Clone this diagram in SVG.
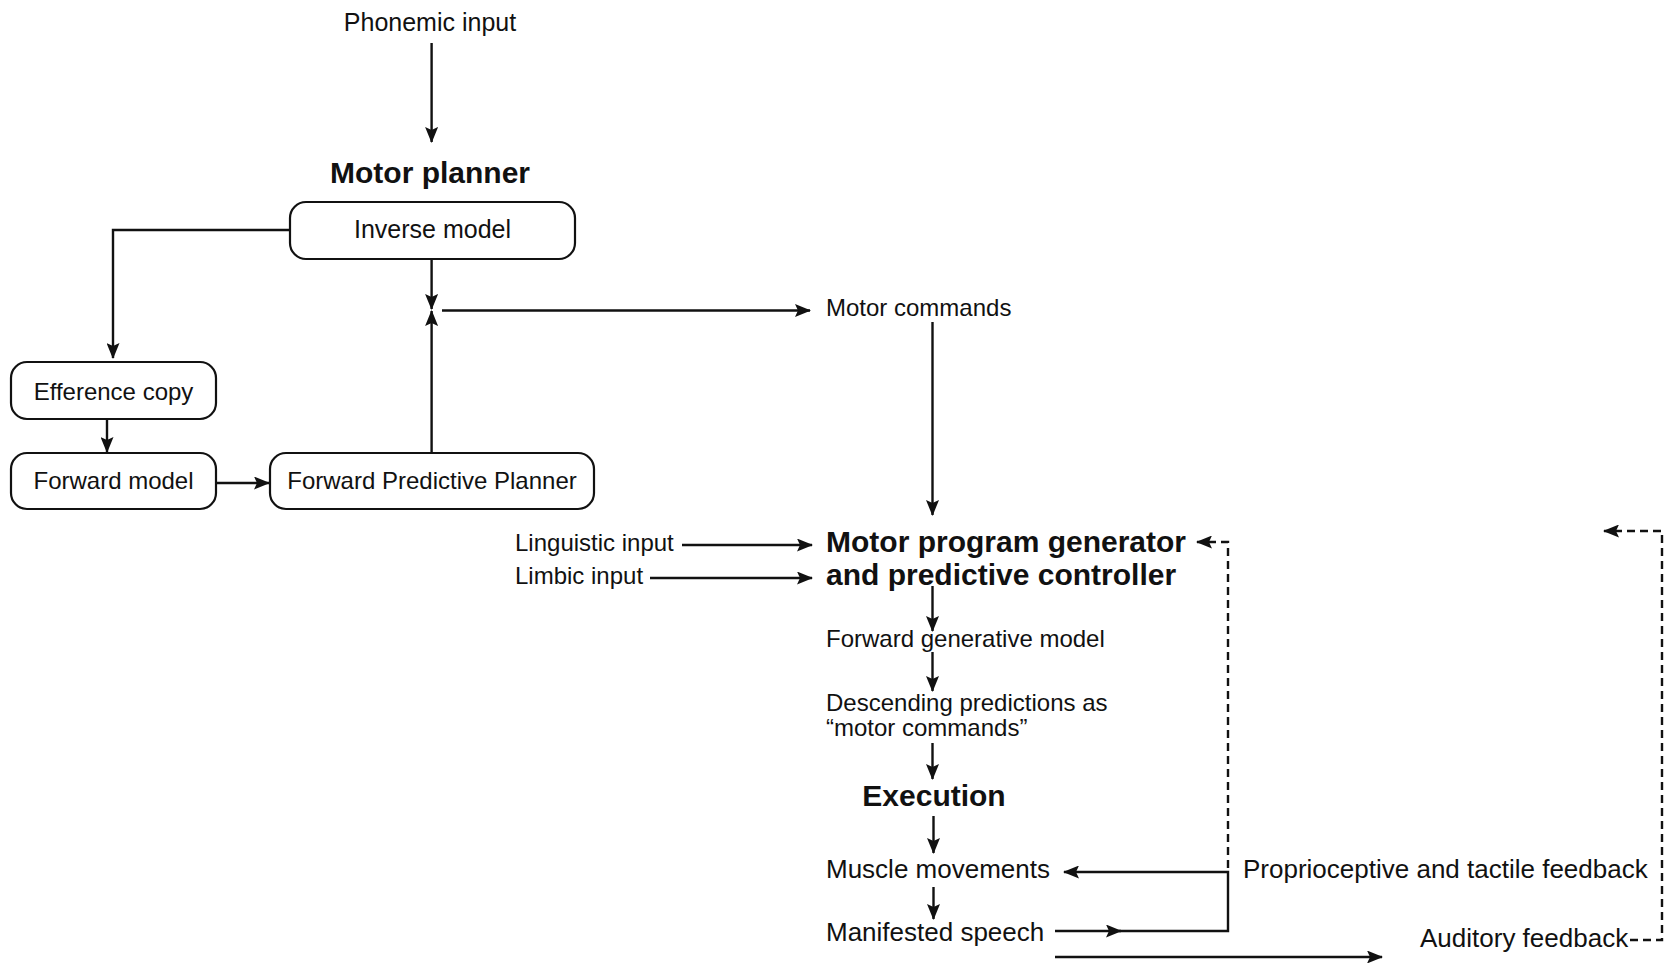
<svg xmlns="http://www.w3.org/2000/svg" width="1671" height="963" viewBox="0 0 1671 963">
<style>
text{font-family:"Liberation Sans",Arial,sans-serif;fill:#111}
.n{font-size:24px}
.m{font-size:25px}
.l{font-size:26px}
.b{font-size:30px;font-weight:bold}
.c{text-anchor:middle}
.box{fill:#fff;stroke:#111;stroke-width:2.2}
.ln{fill:none;stroke:#111;stroke-width:2.4}
.ds{fill:none;stroke:#111;stroke-width:2.4;stroke-dasharray:8 5}
</style>
<defs>
<marker id="ah" viewBox="0 0 16 13" refX="15" refY="6.5" markerWidth="16" markerHeight="13" orient="auto" markerUnits="userSpaceOnUse">
<path d="M0,0 L16,6.5 L0,13 L3,6.5 z" fill="#111"/>
</marker>
</defs>
<rect width="1671" height="963" fill="#fff"/>
<g id="connectors">
<path class="ln" d="M431.6,43 V142" marker-end="url(#ah)"/>
<path class="ln" d="M431.6,259 V309" marker-end="url(#ah)"/>
<path class="ln" d="M431.6,453 V311" marker-end="url(#ah)"/>
<path class="ln" d="M442,310.5 H810" marker-end="url(#ah)"/>
<path class="ln" d="M290,230 H113 V358" marker-end="url(#ah)"/>
<path class="ln" d="M107,419 V452" marker-end="url(#ah)"/>
<path class="ln" d="M216,483 H269" marker-end="url(#ah)"/>
<path class="ln" d="M932.5,322 V515" marker-end="url(#ah)"/>
<path class="ln" d="M682,545 H812" marker-end="url(#ah)"/>
<path class="ln" d="M650,578 H812" marker-end="url(#ah)"/>
<path class="ln" d="M932.5,586 V631" marker-end="url(#ah)"/>
<path class="ln" d="M932.5,652 V691" marker-end="url(#ah)"/>
<path class="ln" d="M932.5,743 V779" marker-end="url(#ah)"/>
<path class="ln" d="M933.5,816 V853" marker-end="url(#ah)"/>
<path class="ln" d="M933.5,887 V919" marker-end="url(#ah)"/>
<path class="ln" d="M1055,931 H1121" marker-end="url(#ah)"/>
<path class="ln" d="M1119,931 H1228 V872 H1064" marker-end="url(#ah)"/>
<path class="ln" d="M1055,957 H1382" marker-end="url(#ah)"/>
<path class="ds" d="M1228,868 V542 H1197" marker-end="url(#ah)"/>
<path class="ds" d="M1630,940 H1662 V531 H1604" marker-end="url(#ah)"/>
</g>
<g id="phonemic-input"><text class="m c" x="430" y="31">Phonemic input</text></g>
<g id="motor-planner"><text class="b c" x="430" y="183">Motor planner</text></g>
<g id="inverse-model"><rect class="box" x="290" y="202" width="285" height="57" rx="16"/><text class="m c" x="432.5" y="238">Inverse model</text></g>
<g id="motor-commands"><text class="n" x="826" y="316">Motor commands</text></g>
<g id="efference-copy"><rect class="box" x="11" y="362" width="205" height="57" rx="16"/><text class="n c" x="113.5" y="400">Efference copy</text></g>
<g id="forward-model"><rect class="box" x="11" y="453" width="205" height="56" rx="16"/><text class="n c" x="113.5" y="489">Forward model</text></g>
<g id="forward-predictive-planner"><rect class="box" x="270" y="453" width="324" height="56" rx="16"/><text class="n c" x="432" y="489">Forward Predictive Planner</text></g>
<g id="linguistic-input"><text class="n" x="515" y="551">Linguistic input</text></g>
<g id="limbic-input"><text class="n" x="515" y="584">Limbic input</text></g>
<g id="motor-program-generator"><text class="b" x="826" y="552">Motor program generator</text><text class="b" x="826" y="585">and predictive controller</text></g>
<g id="forward-generative-model"><text class="n" x="826" y="647">Forward generative model</text></g>
<g id="descending-predictions"><text class="n" x="826" y="711">Descending predictions as</text><text class="n" x="826" y="736">“motor commands”</text></g>
<g id="execution"><text class="b c" x="934" y="806">Execution</text></g>
<g id="muscle-movements"><text class="l" x="826" y="878">Muscle movements</text></g>
<g id="manifested-speech"><text class="l" x="826" y="941">Manifested speech</text></g>
<g id="proprioceptive-feedback"><text class="l" x="1243" y="878">Proprioceptive and tactile feedback</text></g>
<g id="auditory-feedback"><text class="l" x="1420" y="947">Auditory feedback</text></g>
</svg>
